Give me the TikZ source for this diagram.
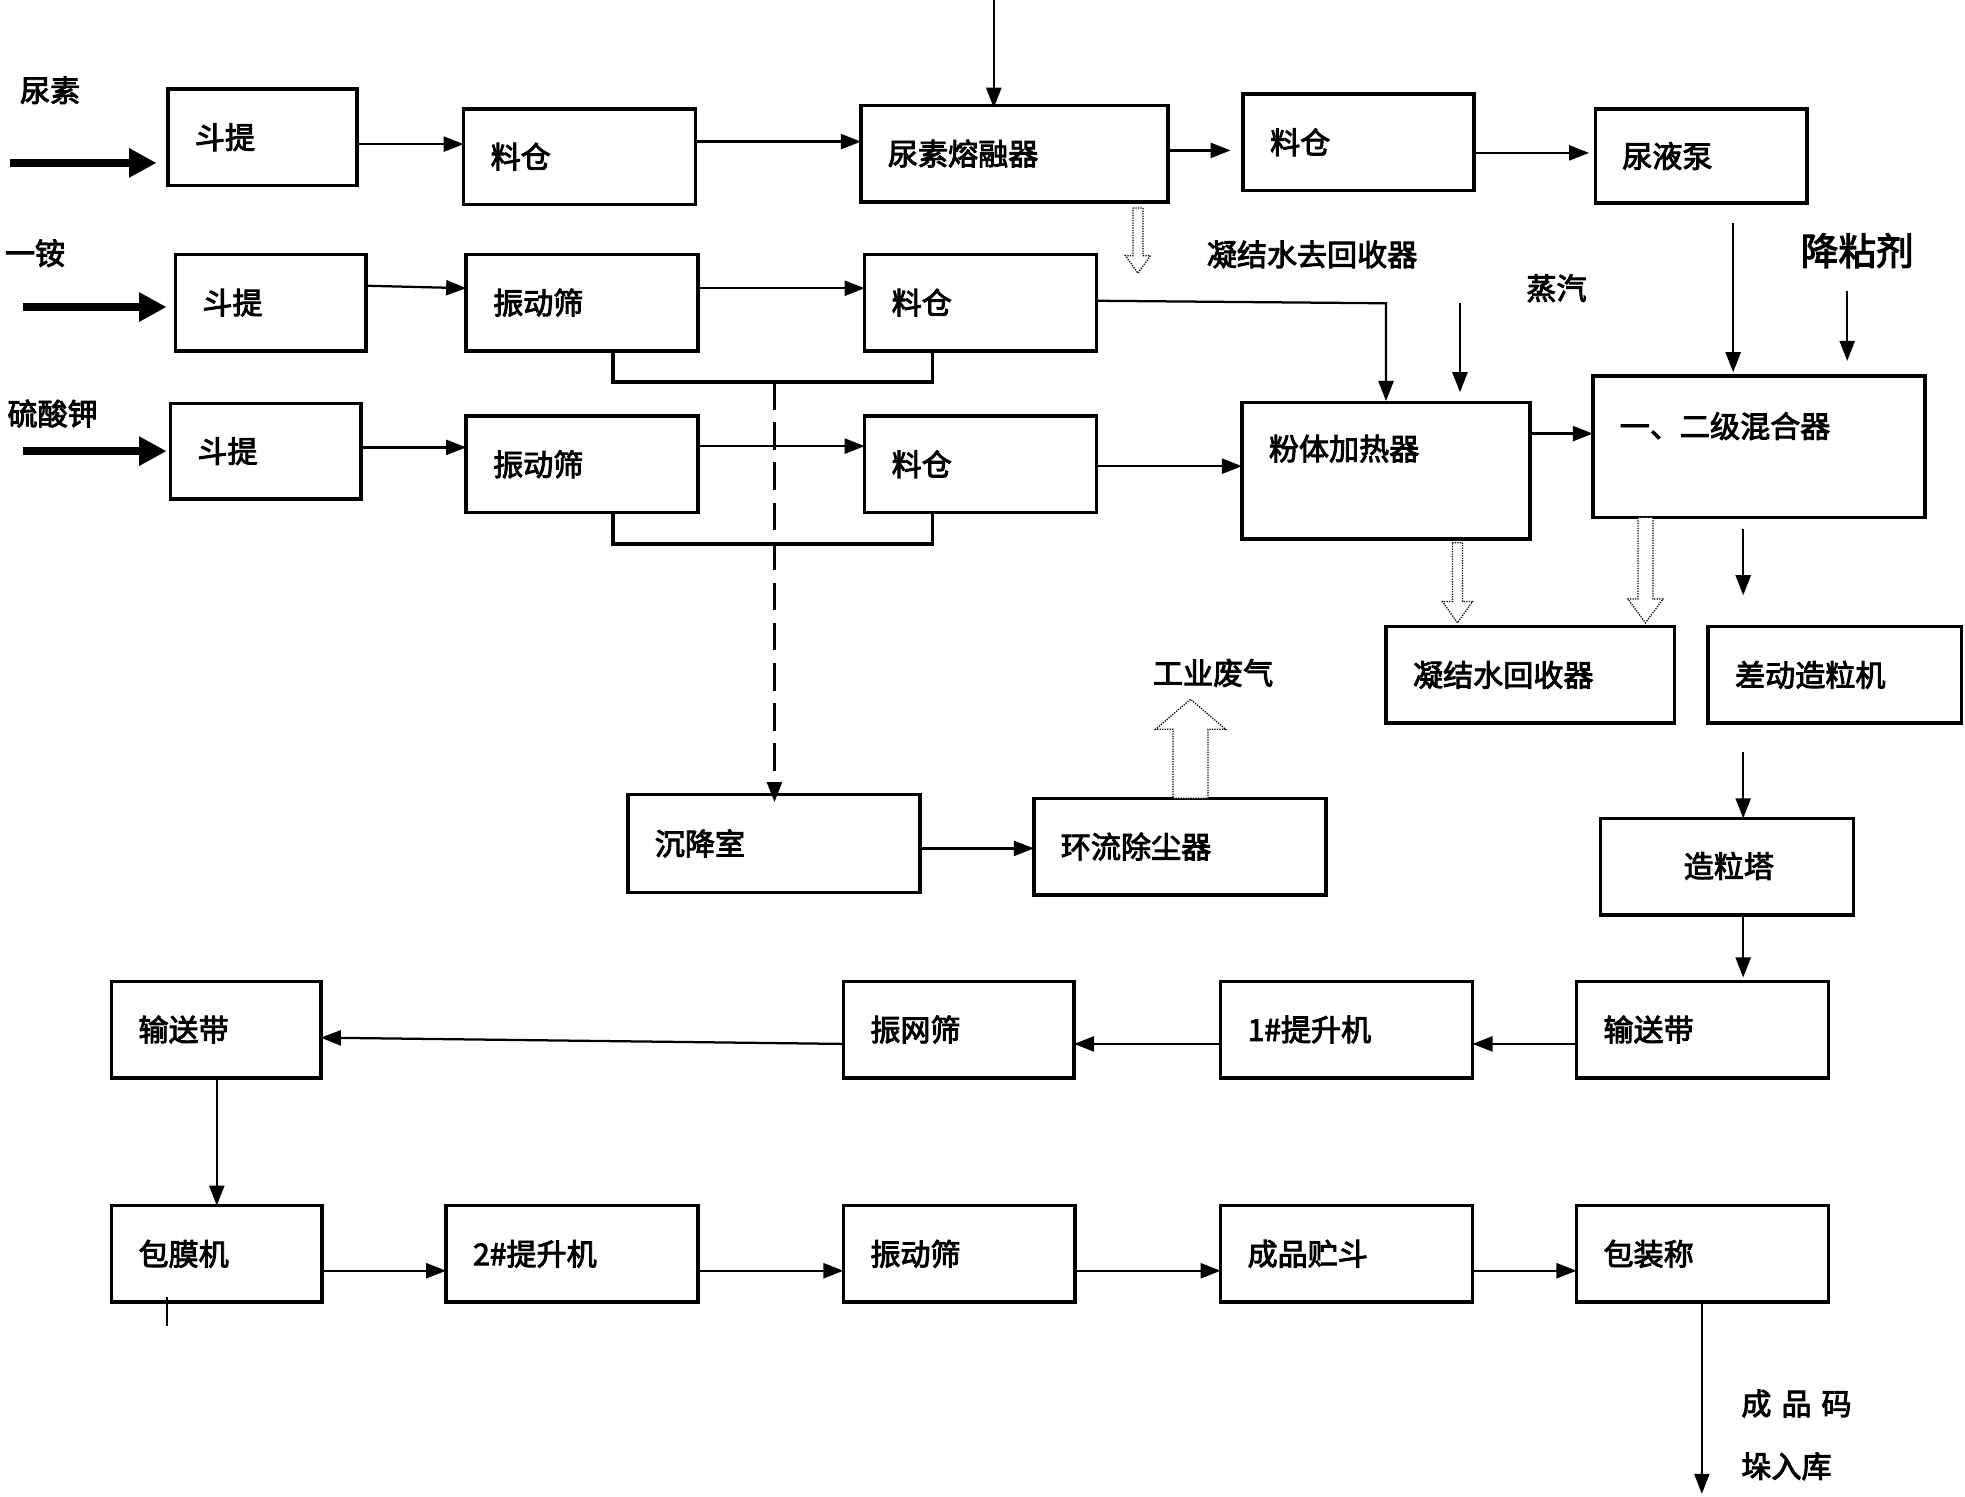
\documentclass[tikz,border=0pt]{standalone}
\usepackage{fontspec}
\setmainfont{Noto Sans CJK SC}[FakeBold=3]
\usetikzlibrary{arrows.meta}
\begin{document}
\begin{tikzpicture}[x=1pt,y=-1pt,
 bx/.style={draw,line width=2.8pt},
 t/.style={anchor=west,font=\fontsize{24}{26}\selectfont},
 lb/.style={font=\fontsize{24}{26}\selectfont},
 ar/.style={-{Triangle[length=16pt,width=12pt]},line width=1.8pt},
 thk/.style={-{Triangle[length=22pt,width=22pt]},line width=6pt},
 hol/.style={draw,line width=1pt,densely dotted,fill=white}]
\useasboundingbox (0,0) rectangle (1568,1194);
\newcommand\bxx[6]{\draw[bx] (#2,#3) rectangle (#4,#5); \node[t] (#1) at (#2+18,{(#3+#5)/2}) {#6};
 \coordinate (#1nw) at (#2,#3); \coordinate (#1se) at (#4,#5);}
\bxx{a1}{134}{71}{285}{148}{斗提}
\bxx{a2}{370}{87}{555}{163}{料仓}
\bxx{a3}{687}{84}{932}{161}{尿素熔融器}
\bxx{a4}{992}{75}{1176}{152}{料仓}
\bxx{a5}{1273}{87}{1442}{162}{尿液泵}
\bxx{b1}{140}{203}{292}{280}{斗提}
\bxx{b2}{372}{203}{557}{280}{振动筛}
\bxx{b3}{690}{203}{875}{280}{料仓}
\bxx{c1}{136}{322}{288}{398}{斗提}
\bxx{c2}{372}{332}{557}{409}{振动筛}
\bxx{c3}{690}{332}{875}{409}{料仓}
\draw[bx] (991,321) rectangle (1221,430); \node[t] (c4) at (1009,358) {粉体加热器};
\draw[bx] (1271,300) rectangle (1536,413); \node[t] (c5) at (1289,340) {一、二级混合器};
\bxx{d1}{1106}{500}{1336}{577}{凝结水回收器}
\bxx{d2}{1363}{500}{1565}{577}{差动造粒机}
\bxx{e1}{501}{634}{734}{712}{沉降室}
\bxx{e2}{825}{637}{1058}{714}{环流除尘器}
\draw[bx] (1277,653) rectangle (1479,730); \node[t] (f1) at (1340,691) {造粒塔};
\bxx{g1}{89}{783}{256}{860}{输送带}
\bxx{g2}{673}{783}{857}{860}{振网筛}
\bxx{g3}{974}{783}{1175}{860}{1\#提升机}
\bxx{g4}{1258}{783}{1459}{860}{输送带}
\bxx{h1}{89}{962}{257}{1039}{包膜机}
\bxx{h2}{356}{962}{557}{1039}{2\#提升机}
\bxx{h3}{673}{962}{858}{1039}{振动筛}
\bxx{h4}{974}{962}{1175}{1039}{成品贮斗}
\bxx{h5}{1258}{962}{1459}{1039}{包装称}
\node[lb] (l1) at (40,72) {尿素};
\node[lb] (l2) at (28,202) {一铵};
\node[lb] (l3) at (42,330) {硫酸钾};
\node[lb] (l4) at (1047,203) {凝结水去回收器};
\node[lb] (l5) at (1242,230) {蒸汽};
\node[font=\fontsize{30}{32}\selectfont] (l6) at (1482,200) {降粘剂};
\node[lb] (l7) at (968,537) {工业废气};
\node[lb,anchor=west] (l8) at (1386,1120) {成\,\,品\,\,码};
\node[lb,anchor=west] (l9) at (1386,1170) {垛入库};
\draw[thk] (8,130) -- (125,130);
\draw[thk] (18,245) -- (133,245);
\draw[thk] (18,360) -- (133,360);
\draw[ar] (285,115) -- (370,115);
\draw[ar] (555,113) -- (687,113);
\draw[ar] (932,120) -- (982,120);
\draw[ar] (1176,122) -- (1268,122);
\draw[ar] (793,0) -- (793,86);
\draw[ar] (292,228) -- (372,230);
\draw[ar] (557,230) -- (690,230);
\draw[ar] (288,357) -- (372,357);
\draw[ar] (557,356) -- (690,356);
\draw[ar] (875,372) -- (991,372);
\draw[ar] (875,240) -- (1106,242) -- (1106,320);
\draw[ar] (1165,242) -- (1165,313);
\draw[ar] (1383,178) -- (1383,297);
\draw[ar] (1474,232) -- (1474,288);
\draw[ar] (1221,346) -- (1271,346);
\draw[ar] (1391,422) -- (1391,475);
\draw[ar] (1391,600) -- (1391,653);
\draw[ar] (1391,732) -- (1391,780);
\draw[ar] (1258,833) -- (1175,833);
\draw[ar] (974,833) -- (857,833);
\draw[ar] (673,833) -- (256,828);
\draw[ar] (173,860) -- (173,962);
\draw[ar] (257,1014) -- (356,1014);
\draw[ar] (557,1014) -- (673,1014);
\draw[ar] (858,1014) -- (974,1014);
\draw[ar] (1175,1014) -- (1258,1014);
\draw[ar] (1358,1039) -- (1358,1192);
\draw[ar] (733,677) -- (825,677);
\draw[line width=1.5pt] (133,1035) -- (133,1058);
\draw[line width=2.8pt] (489,282) -- (489,305) -- (744,305) -- (744,282);
\draw[line width=2.8pt] (489,409) -- (489,434) -- (744,434) -- (744,409);
\draw[ar,dash pattern=on 22pt off 10pt] (618,305) -- (618,640);
\draw[hol] (904,166) -- (912,166) -- (912,204) -- (918,204) -- (908,218) -- (898,204) -- (904,204) -- cycle;
\draw[hol] (1159,433) -- (1167,433) -- (1167,480) -- (1175,480) -- (1163,497) -- (1151,480) -- (1159,480) -- cycle;
\draw[hol] (1307,413) -- (1319,413) -- (1319,478) -- (1327,478) -- (1313,497) -- (1299,478) -- (1307,478) -- cycle;
\draw[hol] (936,637) -- (964,637) -- (964,582) -- (978,582) -- (950,558) -- (922,582) -- (936,582) -- cycle;
\end{tikzpicture}
\end{document}
